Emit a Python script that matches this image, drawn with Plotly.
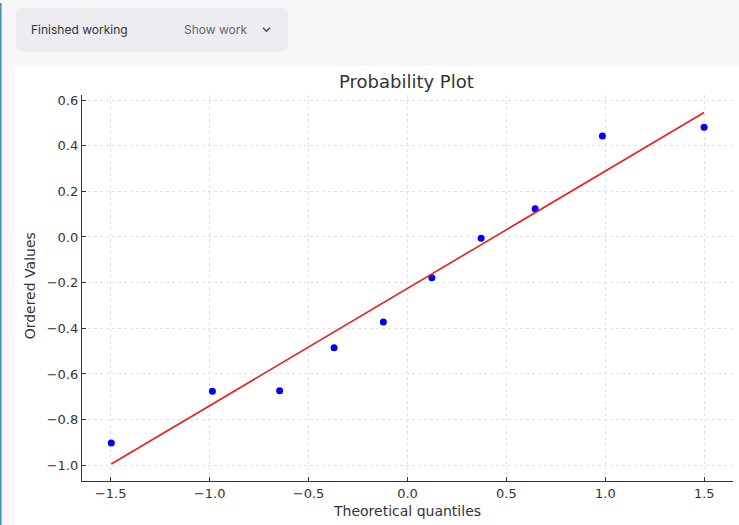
import plotly.graph_objects as go

# ---- data ----
theoretical_quantiles = [-1.497, -0.986, -0.646, -0.371, -0.122, 0.123, 0.372, 0.645, 0.985, 1.499]
ordered_values = [-0.902, -0.676, -0.673, -0.485, -0.372, -0.178, -0.006, 0.124, 0.442, 0.481]
fit_slope = 0.514
fit_intercept = -0.225
x_tick_values = [-1.5, -1.0, -0.5, 0.0, 0.5, 1.0, 1.5]
x_tick_labels = ["−1.5", "−1.0", "−0.5", "0.0", "0.5", "1.0", "1.5"]
y_tick_values = [-1.0, -0.8, -0.6, -0.4, -0.2, 0.0, 0.2, 0.4, 0.6]
y_tick_labels = ["−1.0", "−0.8", "−0.6", "−0.4", "−0.2", "0.0", "0.2", "0.4", "0.6"]

W, H = 739, 525


def px(x):
    return x / W


def py(y):
    return 1 - y / H


def rounded_rect(x0, y0, x1, y1, r):
    return (f"M {px(x0 + r)} {py(y0)} L {px(x1 - r)} {py(y0)} "
            f"Q {px(x1)} {py(y0)} {px(x1)} {py(y0 + r)} L {px(x1)} {py(y1 - r)} "
            f"Q {px(x1)} {py(y1)} {px(x1 - r)} {py(y1)} L {px(x0 + r)} {py(y1)} "
            f"Q {px(x0)} {py(y1)} {px(x0)} {py(y1 - r)} L {px(x0)} {py(y0 + r)} "
            f"Q {px(x0)} {py(y0)} {px(x0 + r)} {py(y0)} Z")


fit_x = [min(theoretical_quantiles), max(theoretical_quantiles)]
fit_y = [fit_slope * v + fit_intercept for v in fit_x]

fig = go.Figure()
fig.add_trace(go.Scatter(x=theoretical_quantiles, y=ordered_values, mode="markers",
                         marker=dict(color="#0000ff", size=7), showlegend=False,
                         hoverinfo="x+y"))
fig.add_trace(go.Scatter(x=fit_x, y=fit_y, mode="lines",
                         line=dict(color="#ee1c1c", width=1.6), showlegend=False))

font_mpl = "DejaVu Sans"
text_col = "#333333"

shapes = [
    # white chart panel
    dict(type="rect", xref="paper", yref="paper", x0=px(15), x1=px(739), y0=py(525), y1=py(63),
         fillcolor="white", line=dict(width=0), layer="below"),
    # left accent border
    dict(type="rect", xref="paper", yref="paper", x0=0, x1=px(1.6), y0=0, y1=1,
         fillcolor="#4d93b3", line=dict(width=0), layer="below"),
    # "Finished working" button
    dict(type="path", xref="paper", yref="paper", path=rounded_rect(16, 5, 288, 49, 6),
         fillcolor="#ececf1", line=dict(width=0), layer="below"),
    # chevron
    dict(type="path", xref="paper", yref="paper",
         path=f"M {px(263)} {py(25)} L {px(266.5)} {py(28.5)} L {px(270)} {py(25)}",
         line=dict(color="#444", width=1.4)),
]

annotations = [
    dict(text="Finished working", xref="paper", yref="paper", x=px(29), y=py(27),
         xanchor="left", yanchor="middle", showarrow=False,
         font=dict(family="Inter", size=12, color="#333")),
    dict(text="Show work", xref="paper", yref="paper", x=px(182), y=py(27),
         xanchor="left", yanchor="middle", showarrow=False,
         font=dict(family="Inter", size=12, color="#666")),
    dict(text="Probability Plot", xref="paper", yref="paper", x=px(407), y=py(79),
         xanchor="center", yanchor="middle", showarrow=False,
         font=dict(family=font_mpl, size=18, color=text_col)),
    dict(text="Theoretical quantiles", xref="paper", yref="paper", x=px(407), y=py(511),
         xanchor="center", yanchor="middle", showarrow=False,
         font=dict(family=font_mpl, size=14, color=text_col)),
    dict(text="Ordered Values", xref="paper", yref="paper", x=px(30), y=py(285),
         xanchor="center", yanchor="middle", showarrow=False, textangle=-90,
         font=dict(family=font_mpl, size=14, color=text_col)),
]

fig.update_layout(
    width=W, height=H,
    margin=dict(l=0, r=0, t=0, b=0),
    paper_bgcolor="#f7f7f7",
    plot_bgcolor="white",
    shapes=shapes,
    annotations=annotations,
    xaxis=dict(domain=[px(82), px(733)], range=[-1.645, 1.645],
               tickvals=x_tick_values, ticktext=x_tick_labels,
               showline=True, linecolor="#333", linewidth=1.3, mirror=False,
               ticks="inside", ticklen=4, tickcolor="#333",
               showgrid=True, gridcolor="#e2e2e2", griddash="dot", gridwidth=1,
               zeroline=False, anchor="y",
               tickfont=dict(family=font_mpl, size=13, color=text_col)),
    yaxis=dict(domain=[py(481), py(93)], range=[-1.07, 0.62],
               tickvals=y_tick_values, ticktext=y_tick_labels,
               showline=True, linecolor="#333", linewidth=1.3, mirror=False,
               ticks="inside", ticklen=4, tickcolor="#333",
               showgrid=True, gridcolor="#e2e2e2", griddash="dot", gridwidth=1,
               zeroline=False, anchor="x",
               tickfont=dict(family=font_mpl, size=13, color=text_col)),
)

fig.write_html("out.html")
